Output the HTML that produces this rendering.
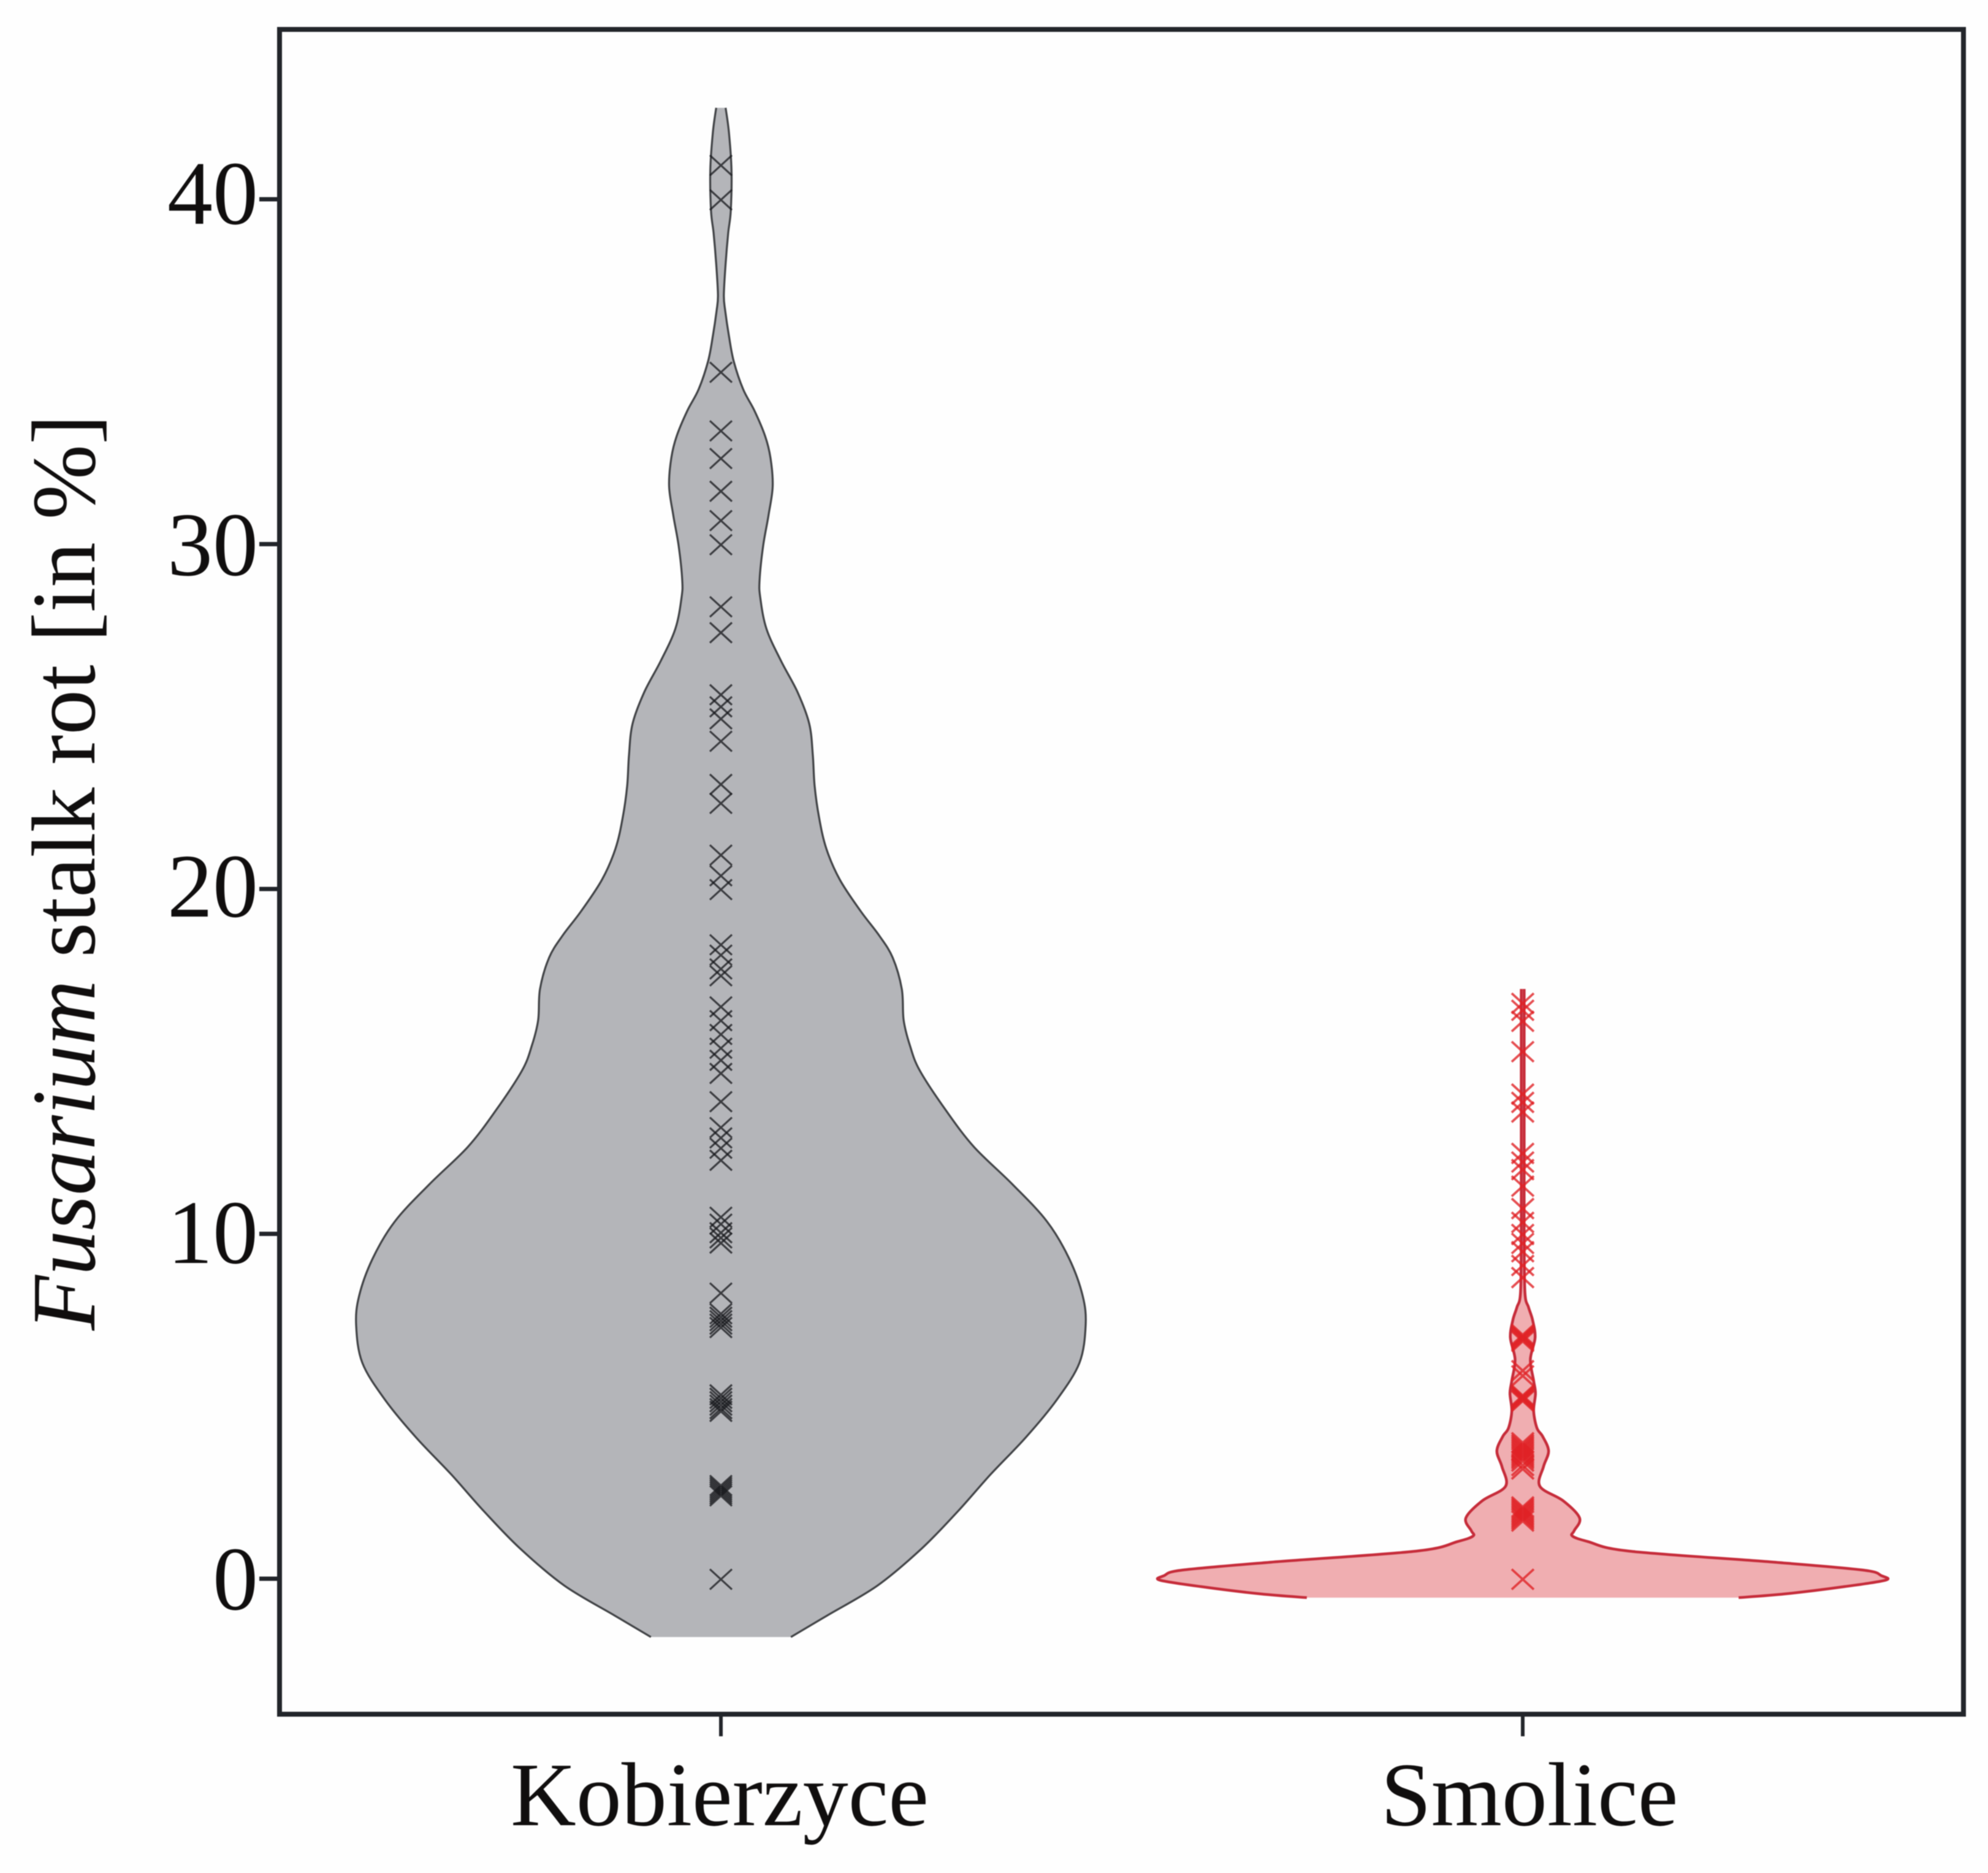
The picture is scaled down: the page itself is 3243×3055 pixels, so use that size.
<!DOCTYPE html>
<html lang="en">
<head>
<meta charset="utf-8">
<title>Fusarium stalk rot violin plot</title>
<style>
html,body{margin:0;padding:0;background:#fefefe;width:3243px;height:3055px;overflow:hidden}
svg{display:block;filter:blur(0.8px)}
text{font-family:"Liberation Serif",serif;fill:#100e0e}
</style>
</head>
<body>
<svg id="chart" xmlns="http://www.w3.org/2000/svg" width="3243" height="3055" viewBox="0 0 3243 3055">
  <rect x="0" y="0" width="3243" height="3055" fill="#fefefe"/>
  <g id="violins"></g>
  <g id="axes"></g>
  <text transform="translate(154,2170) rotate(-90) scale(0.993,1)" font-size="148"><tspan font-style="italic">Fusarium</tspan> stalk rot [in %]</text>
</svg>
<script>
const categories = ['Kobierzyce', 'Smolice'];
const yTicks = [0, 10, 20, 30, 40];

const kobierzyceLevels = [42.65,41.94,40.85,39.66,39.02,38.13,37.21,36.76,36.04,35.31,34.49,33.87,33.14,32.5,31.68,30.86,29.96,28.96,28.44,27.54,26.61,25.71,24.8,23.89,22.99,22.08,21.17,20.27,19.36,18.65,18.01,17.1,16.2,15.47,14.74,13.58,12.52,11.43,10.36,9.28,8.2,7.34,6.26,5.19,4.11,3.02,1.96,0.87,-0.2,-1.07,-1.69];
const kobierzyceDensity = [0.013,0.022,0.029,0.027,0.020,0.013,0.008,0.012,0.022,0.035,0.061,0.092,0.121,0.136,0.142,0.131,0.116,0.106,0.108,0.125,0.165,0.21,0.242,0.252,0.257,0.269,0.289,0.326,0.383,0.434,0.471,0.496,0.501,0.518,0.545,0.617,0.694,0.8,0.894,0.955,0.992,1,0.983,0.921,0.837,0.739,0.65,0.55,0.429,0.291,0.192];

const smoliceLevels = [17.1,15,12,10,8.3,7.87,7.5,6.99,6.36,5.74,5.37,4.87,4.37,4.12,3.7,3.25,2.68,2.26,1.76,1.39,1.24,1.08,0.8,0.48,0.25,0.09,-0.04,-0.23,-0.44,-0.55];
const smoliceDensity = [0.004,0.004,0.004,0.004,0.006,0.016,0.027,0.034,0.021,0.03,0.035,0.03,0.039,0.055,0.071,0.057,0.047,0.111,0.156,0.141,0.136,0.178,0.292,0.689,0.933,0.983,0.995,0.882,0.719,0.592];

const kobierzyceObservations = [41,40,35,33.3,32.5,31.55,30.7,30,28.2,27.45,25.65,25.3,24.95,24.3,23.05,22.5,21,20.4,20,18.4,18.1,17.7,17.5,16.6,16.2,15.8,15.4,15.05,14.67,13.85,13.1,12.8,12.5,12.15,10.5,10.3,10.05,9.9,9.75,8.3,7.7,7.6,7.5,7.4,7.3,5.35,5.25,5.15,5.05,4.95,4.87,2.72,2.66,2.6,2.54,2.48,2.42,0];
const smoliceObservations = [16.7,16.5,16.18,15.3,14.07,13.83,13.55,12.35,12.1,11.88,11.4,10.75,10.35,10,9.74,9.5,9.1,8.75,7.09,7.05,7.02,6.98,6.94,6.9,6.05,5.9,5.33,5.3,5.27,5.24,5.2,5.17,3.96,3.9,3.85,3.8,3.75,3.7,3.65,3.6,3.55,3.5,3.43,3.3,3.2,2.1,2.05,2,1.95,1.9,1.85,1.8,1.75,1.69,0];

const SVG_NS = 'http://www.w3.org/2000/svg';
const yScale = v => 2575 - 56.25 * v;
const xScale = i => 1176 + 1308 * i;
const widthScale = d => 595 * d;
const labelBaseline = v => 2625 - 56.5 * v + (v === 30 ? 8 : 0);

const FRAME = {left: 456, top: 48, right: 3203, bottom: 2796};

function make(tag, attrs, parent) {
  const el = document.createElementNS(SVG_NS, tag);
  for (const k in attrs) el.setAttribute(k, attrs[k]);
  parent.appendChild(el);
  return el;
}

function splinePath(pts, move) {
  let d = move ? 'M' + pts[0][0].toFixed(1) + ' ' + pts[0][1].toFixed(1) : 'L' + pts[0][0].toFixed(1) + ' ' + pts[0][1].toFixed(1);
  for (let i = 0; i < pts.length - 1; i++) {
    const p0 = pts[Math.max(0, i - 1)], p1 = pts[i], p2 = pts[i + 1], p3 = pts[Math.min(pts.length - 1, i + 2)];
    const k = 1 / 6;
    const c1x = p1[0] + (p2[0] - p0[0]) * k, c1y = p1[1] + (p2[1] - p0[1]) * k;
    const c2x = p2[0] - (p3[0] - p1[0]) * k, c2y = p2[1] - (p3[1] - p1[1]) * k;
    d += 'C' + c1x.toFixed(1) + ' ' + c1y.toFixed(1) + ' ' + c2x.toFixed(1) + ' ' + c2y.toFixed(1) + ' ' + p2[0].toFixed(1) + ' ' + p2[1].toFixed(1);
  }
  return d;
}

function drawViolin(parentGroup, idx, levels, density, observations, style, slug) {
  const cx = xScale(idx);
  const left = levels.map((v, i) => [cx - widthScale(density[i]), yScale(v)]);
  const right = levels.map((v, i) => [cx + widthScale(density[i]), yScale(v)]);

  const g = make('g', {}, parentGroup);
  
  

  const body = make('path', {
    d: splinePath(left, true) + splinePath(right.slice().reverse(), false) + 'Z',
    fill: style.fill, stroke: 'none'
  }, g);
  
  

  const leftEdge = make('path', {d: splinePath(left, true), fill: 'none', stroke: style.line, 'stroke-width': style.lineWidth}, g);
  
  

  const rightEdge = make('path', {d: splinePath(right, true), fill: 'none', stroke: style.line, 'stroke-width': style.lineWidth}, g);
  
  

  observations.forEach(v => {
    const y = yScale(v) + 1;
    const m = make('path', {
      d: 'M' + (cx - 18) + ' ' + (y - 16.5) + 'L' + (cx + 18) + ' ' + (y + 16.5) + 'M' + (cx + 18) + ' ' + (y - 16.5) + 'L' + (cx - 18) + ' ' + (y + 16.5),
      fill: 'none', stroke: style.mark, 'stroke-width': style.markWidth
    }, g);
    
    
  });
}

const violins = document.getElementById('violins');
drawViolin(violins, 0, kobierzyceLevels, kobierzyceDensity, kobierzyceObservations,
  {fill: '#b4b5b9', line: '#404245', lineWidth: 3.2, mark: 'rgba(24,26,30,0.78)', markWidth: 3.2}, 'kobierzyce');
drawViolin(violins, 1, smoliceLevels, smoliceDensity, smoliceObservations,
  {fill: '#f0aeb1', line: '#c62c3a', lineWidth: 4.5, mark: 'rgba(224,34,38,0.8)', markWidth: 3.8}, 'smolice');

const axes = document.getElementById('axes');
const frame = make('rect', {
  x: FRAME.left, y: FRAME.top, width: FRAME.right - FRAME.left, height: FRAME.bottom - FRAME.top,
  fill: 'none', stroke: '#22252a', 'stroke-width': 8
}, axes);



yTicks.forEach(v => {
  const tick = make('line', {x1: 423, x2: FRAME.left, y1: yScale(v), y2: yScale(v), stroke: '#22252a', 'stroke-width': 7}, axes);
  
  
  const label = make('text', {x: 421, y: labelBaseline(v), 'text-anchor': 'end', 'font-size': 148}, axes);
  label.textContent = String(v);
  
  
});

categories.forEach((name, i) => {
  const tick = make('line', {x1: xScale(i), x2: xScale(i), y1: FRAME.bottom, y2: 2832, stroke: '#22252a', 'stroke-width': 6}, axes);
  
  
  const label = make('text', {x: xScale(i) + (i === 0 ? -2 : 11), y: 2977, 'text-anchor': 'middle', 'font-size': 148}, axes);
  label.textContent = name;
  
  
});
</script>
</body>
</html>
